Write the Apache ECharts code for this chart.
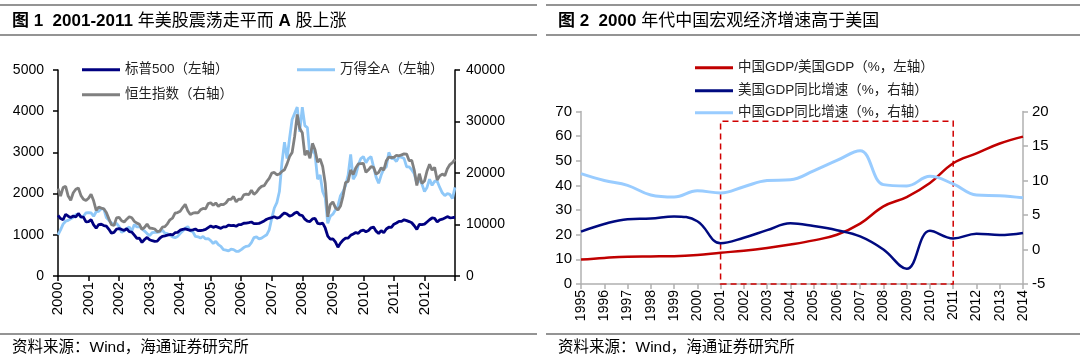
<!DOCTYPE html>
<html><head><meta charset="utf-8">
<script src="https://cdn.jsdelivr.net/npm/echarts@6/dist/echarts.min.js"></script>
<style>html,body{margin:0;padding:0;background:#fff}#c{width:1080px;height:359px}</style>
</head><body><div id="c"></div>
<script>
// ---------- Chart 1 (monthly, index 0 = close of Dec 1999) ----------
var monthCats = [];
for (var yy = 2000; yy <= 2013; yy++) { for (var mm = 1; mm <= 12; mm++) { if (yy === 2013 && mm > 1) break; monthCats.push(yy + '-' + (mm < 10 ? '0' + mm : mm)); } }

var spx = [1469,
1394,1366,1499,1452,1421,1455,1431,1518,1437,1429,1315,1320,
1366,1240,1160,1249,1256,1224,1211,1134,1041,1060,1139,1148,
1130,1107,1147,1076,1067,990,912,916,815,886,936,880,
856,841,848,917,964,975,990,1008,996,1051,1058,1112,
1131,1145,1126,1107,1121,1141,1102,1104,1115,1130,1174,1212,
1181,1204,1181,1157,1192,1191,1234,1220,1229,1207,1249,1248,
1280,1281,1295,1311,1270,1270,1277,1304,1336,1378,1401,1418,
1438,1407,1421,1482,1531,1503,1455,1474,1527,1549,1481,1468,
1379,1331,1323,1386,1400,1280,1267,1283,1166,969,896,903,
826,700,798,873,919,919,987,1021,1057,1036,1096,1115,
1074,1104,1169,1187,1089,1031,1102,1049,1141,1183,1181,1258,
1286,1327,1326,1364,1345,1321,1292,1219,1131,1253,1247,1258,
1312,1366,1408,1398,1310,1362,1379,1407,1441,1412,1416,1426];

var windA = [1000,
1120,1260,1330,1350,1390,1420,1490,1500,1420,1450,1530,1540,
1530,1450,1560,1570,1630,1630,1420,1350,1290,1240,1280,1200,
1060,1090,1150,1190,1090,1250,1190,1200,1140,1090,1030,980,
1050,1060,1060,1070,1110,1040,1030,990,950,930,960,1030,
1090,1160,1200,1100,1070,960,950,920,960,900,910,860,
790,840,760,720,640,630,610,650,640,600,600,640,
690,720,730,810,930,950,900,920,960,1000,1120,1400,
1650,1780,2050,2750,3250,2850,3350,3800,3950,4100,3500,4100,
3650,3600,2900,3100,2950,2350,2450,2050,1900,1280,1450,1500,
1600,1700,1950,2050,2200,2450,2950,2350,2450,2700,2850,2900,
2750,2850,2900,2650,2400,2250,2450,2600,2650,3000,2850,2850,
2780,2900,2880,2850,2650,2650,2580,2480,2250,2350,2230,2050,
2150,2350,2200,2300,2300,2150,2020,1950,2000,1980,1880,2150];

var hsi = [16962,
15532,17169,17407,15519,14714,16155,16841,17097,15649,14895,14649,15096,
15894,14605,12761,13386,13175,13043,12316,11091,9951,9812,11279,11397,
10725,10482,11033,11497,11302,10598,10268,10043,9072,9441,10069,9321,
9258,9123,8634,8718,9487,9577,10134,10908,11230,12190,12317,12576,
13289,13907,12682,11943,12198,12286,12238,12850,13120,13054,14060,14230,
13721,14195,13516,13908,13868,14201,14880,14904,15429,14386,14937,14876,
15753,15918,15805,16661,15857,16267,16971,17392,17543,18324,18960,19965,
20106,19652,19800,20319,20635,21773,23185,23984,27142,31352,28643,27813,
23456,24332,22849,25755,24533,22102,22731,21261,18016,11500,13888,14387,
13278,12812,13576,15521,18171,18379,20573,19724,20955,21752,21822,21873,
20122,20608,21239,21108,19765,20129,21030,20537,22359,23096,23008,23035,
23447,23338,23528,23720,23684,22398,22440,20535,17592,19864,17989,18434,
20390,21680,20556,21094,18630,19441,19796,19482,20840,21641,22030,22657];

var leftTicks1 = [0, 1000, 2000, 3000, 4000, 5000];
var rightTicks1 = [0, 10000, 20000, 30000, 40000];

// ---------- Chart 2 (annual) ----------
var years = ['1995','1996','1997','1998','1999','2000','2001','2002','2003','2004','2005','2006','2007','2008','2009','2010','2011','2012','2013','2014'];
var cnUsRatio = [9.9,10.6,11.1,11.2,11.3,11.8,12.7,13.5,14.6,16.0,17.7,20.0,24.5,31.5,35.3,41.0,49.0,53.0,57.0,59.8];
var usGrowth  = [2.6,3.7,4.4,4.5,4.8,4.1,0.9,1.7,2.8,3.8,3.4,2.8,1.9,0.0,-2.8,2.7,1.6,2.3,2.1,2.4];
var cnGrowth  = [11.0,10.0,9.3,7.9,7.6,8.5,8.2,9.1,10.0,10.1,11.4,12.9,14.3,9.4,9.2,10.6,9.5,7.9,7.8,7.5];
var boxFrom = '2001', boxTo = '2011', boxTop = 66;

var CJK = "'Liberation Sans','Noto Sans CJK SC',sans-serif";
var chart = echarts.init(document.getElementById('c'), null, {renderer: 'canvas'});

function rule(x1, x2, y) {
  return {type: 'line', shape: {x1: x1, y1: y, x2: x2, y2: y}, style: {stroke: '#707070', lineWidth: 1.5}, silent: true};
}
function titleText(x, rich) {
  return {type: 'text', x: x, y: 21, style: {text: rich, verticalAlign: 'middle', fill: '#000',
    rich: {b: {fontSize: 17, fontWeight: 'bold', fontFamily: CJK, fill: '#000'},
           n: {fontSize: 17, fontWeight: 'normal', fontFamily: CJK, fill: '#000'}}}};
}
function footer(x) {
  return {type: 'text', x: x, y: 348, style: {text: '资料来源：Wind，海通证券研究所', verticalAlign: 'middle', fill: '#000', fontSize: 15.5, fontFamily: CJK}};
}
function legendItem(name, left, top) {
  return {data: [name], left: left, top: top, padding: 0, icon: 'rect', itemWidth: 38, itemHeight: 3,
    textStyle: {fontSize: 13.5, color: '#222', fontFamily: CJK}, selectedMode: false};
}
function plain(v) { return String(v); }

var axisBlack = {show: true, lineStyle: {color: '#000', width: 1.5}};
var axisGray = {show: true, lineStyle: {color: '#b0b0b0', width: 1.5}};

var option = {
  animation: false,
  backgroundColor: '#fff',
  graphic: [
    rule(0, 537, 5), rule(0, 537, 35), rule(0, 537, 334),
    rule(546, 1080, 5), rule(546, 1080, 35), rule(546, 1080, 334),
    titleText(12, '{b|图 1  2001-2011 }{n|年美股震荡走平而 }{b|A}{n| 股上涨}'),
    titleText(558, '{b|图 2  2000 }{n|年代中国宏观经济增速高于美国}'),
    footer(12), footer(558)
  ],
  legend: [
    legendItem('标普500（左轴）', 82, 63),
    legendItem('恒生指数（右轴）', 82, 88),
    legendItem('万得全A（左轴）', 297, 63),
    legendItem('中国GDP/美国GDP（%，左轴）', 695, 61),
    legendItem('美国GDP同比增速（%，右轴）', 695, 84),
    legendItem('中国GDP同比增速（%，右轴）', 695, 106)
  ],
  grid: [
    {left: 58, right: 625, top: 70, bottom: 83, containLabel: false},
    {left: 581, right: 57, top: 111.5, bottom: 75, containLabel: false}
  ],
  xAxis: [
    {gridIndex: 0, type: 'category', data: monthCats, boundaryGap: false,
     axisLine: axisBlack,
     axisTick: {show: true, inside: false, length: 5, lineStyle: {color: '#000', width: 1.5},
       interval: function (i) { return i % 12 === 0; }},
     axisLabel: {rotate: 90, margin: 6, fontSize: 15, color: '#000', fontFamily: CJK,
       interval: function (i) { return i % 12 === 0 && i < monthCats.length - 1; },
       formatter: function (v) { return v.slice(0, 4); }},
     splitLine: {show: false}},
    {gridIndex: 1, type: 'category', data: years, boundaryGap: false,
     axisLine: axisGray,
     axisTick: {show: true, length: 5, lineStyle: {color: '#b0b0b0', width: 1.5}, interval: 0},
     axisLabel: {rotate: 90, margin: 6, fontSize: 14, color: '#000', fontFamily: CJK, interval: 0},
     splitLine: {show: false}}
  ],
  yAxis: [
    {gridIndex: 0, type: 'value', position: 'left', min: leftTicks1[0], max: leftTicks1[leftTicks1.length - 1], interval: 1000,
     axisLine: axisBlack, axisTick: {show: true, length: 5, lineStyle: {color: '#000', width: 1.5}},
     axisLabel: {fontSize: 14, color: '#000', margin: 14, fontFamily: CJK, formatter: plain}, splitLine: {show: false}},
    {gridIndex: 0, type: 'value', position: 'right', min: rightTicks1[0], max: rightTicks1[rightTicks1.length - 1], interval: 10000,
     axisLine: axisBlack, axisTick: {show: true, length: 5, lineStyle: {color: '#000', width: 1.5}},
     axisLabel: {fontSize: 14, color: '#000', margin: 11, fontFamily: CJK, formatter: plain}, splitLine: {show: false}},
    {gridIndex: 1, type: 'value', position: 'left', min: 0, max: 70, interval: 10,
     axisLine: axisGray, axisTick: {show: true, length: 5, lineStyle: {color: '#b0b0b0', width: 1.5}},
     axisLabel: {fontSize: 15, color: '#000', margin: 9, fontFamily: CJK, formatter: plain}, splitLine: {show: false}},
    {gridIndex: 1, type: 'value', position: 'right', min: -5, max: 20, interval: 5,
     axisLine: axisGray, axisTick: {show: true, length: 5, lineStyle: {color: '#b0b0b0', width: 1.5}},
     axisLabel: {fontSize: 15, color: '#000', margin: 9, fontFamily: CJK, formatter: plain}, splitLine: {show: false}}
  ],
  series: [
    {name: '万得全A（左轴）', type: 'line', xAxisIndex: 0, yAxisIndex: 0, data: windA, symbol: 'none',
     lineStyle: {color: '#8FC8F8', width: 2.8}, itemStyle: {color: '#8FC8F8'}, z: 2},
    {name: '恒生指数（右轴）', type: 'line', xAxisIndex: 0, yAxisIndex: 1, data: hsi, symbol: 'none',
     lineStyle: {color: '#808080', width: 2.8}, itemStyle: {color: '#808080'}, z: 3},
    {name: '标普500（左轴）', type: 'line', xAxisIndex: 0, yAxisIndex: 0, data: spx, symbol: 'none',
     lineStyle: {color: '#000080', width: 2.8}, itemStyle: {color: '#000080'}, z: 4},
    {name: '中国GDP/美国GDP（%，左轴）', type: 'line', xAxisIndex: 1, yAxisIndex: 2, data: cnUsRatio, symbol: 'none', smooth: 0.4,
     lineStyle: {color: '#C00000', width: 2.5}, itemStyle: {color: '#C00000'}, z: 3,
     markArea: {silent: true, label: {show: false},
       itemStyle: {color: 'rgba(0,0,0,0)', borderColor: '#D00000', borderWidth: 1.5, borderType: [6, 4]},
       data: [[{coord: [boxFrom, 0]}, {coord: [boxTo, boxTop]}]]}},
    {name: '美国GDP同比增速（%，右轴）', type: 'line', xAxisIndex: 1, yAxisIndex: 3, data: usGrowth, symbol: 'none', smooth: 0.4,
     lineStyle: {color: '#000A80', width: 2.5}, itemStyle: {color: '#000A80'}, z: 4},
    {name: '中国GDP同比增速（%，右轴）', type: 'line', xAxisIndex: 1, yAxisIndex: 3, data: cnGrowth, symbol: 'none', smooth: 0.4,
     lineStyle: {color: '#99CCFF', width: 3}, itemStyle: {color: '#99CCFF'}, z: 5}
  ]
};
chart.setOption(option);
</script></body></html>
